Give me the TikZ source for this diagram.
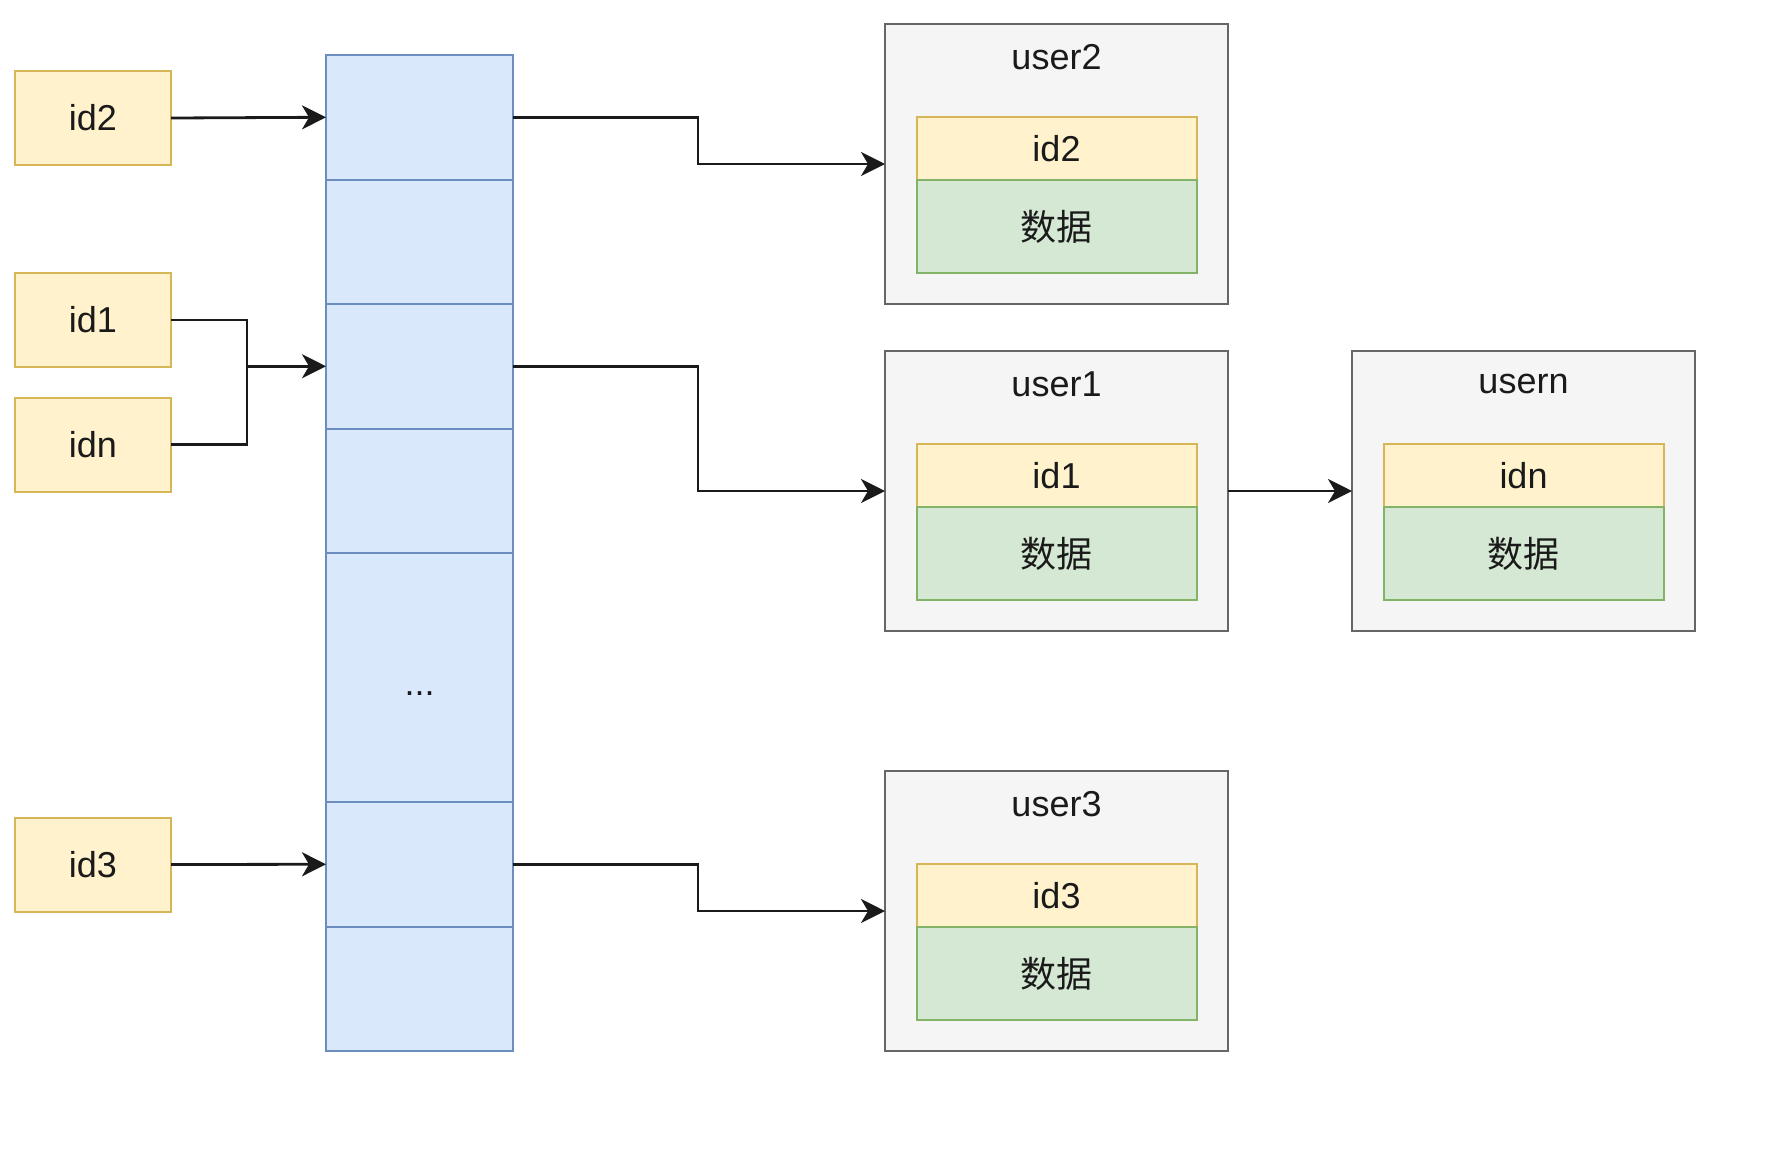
\documentclass[tikz,border=0pt]{standalone}
\usepackage{fontspec}
\setmainfont{Liberation Sans}
\newfontfamily\cjk{Noto Sans CJK SC}
\usetikzlibrary{arrows.meta, positioning}
\definecolor{cKey}{HTML}{FFF2CC}
\definecolor{cKeyL}{HTML}{D6B656}
\definecolor{cSlot}{HTML}{DAE8FC}
\definecolor{cSlotL}{HTML}{6C8EBF}
\definecolor{cData}{HTML}{D5E8D4}
\definecolor{cDataL}{HTML}{82B366}
\definecolor{cUser}{HTML}{F5F5F5}
\definecolor{cUserL}{HTML}{666666}
\definecolor{ink}{HTML}{1A1A1A}

\begin{document}
\begin{tikzpicture}[
  % pixel-like grid, y running downwards
  x=0.5pt, y=-0.5pt,
  >={Stealth[length=12pt, width=12pt, inset=3.5pt]},
  font=\fontsize{18}{22}\selectfont,
  text=ink,
  key/.style={draw=cKeyL, fill=cKey, line width=1pt, outer sep=0pt,
              minimum width=78pt, minimum height=47pt, inner sep=0pt},
  cell/.style={draw=cSlotL, fill=cSlot, line width=1pt, outer sep=0pt,
               minimum width=93.5pt, inner sep=0pt},
  user/.style={draw=cUserL, fill=cUser, line width=1pt, outer sep=0pt,
               minimum width=171.5pt, minimum height=140pt, inner sep=0pt},
  idrow/.style={draw=cKeyL, fill=cKey, line width=1pt, outer sep=0pt,
                minimum width=140pt, minimum height=31.5pt, inner sep=0pt},
  datarow/.style={draw=cDataL, fill=cData, line width=1pt, outer sep=0pt,
                  minimum width=140pt, minimum height=46.5pt, inner sep=0pt,
                  font={\cjk\fontsize{18}{22}\selectfont}},
  arr/.style={->, line width=1.4pt, color=ink},
  link/.style={line width=1.4pt, color=ink},
]
  \useasboundingbox (0,0) rectangle (1786,1164);

  % --- keys on the left ---
  \foreach \n/\y in {id2/118, id1/320, idn/444.5, id3/864.5}{
    \node[key] (\n) at (93,\y) {\n};
  }

  % --- slot column ---
  \foreach \i/\y/\h in {
      1/117.25/62.25pt, 2/241.75/62.25pt, 3/366.25/62.25pt,
      4/490.75/62.25pt, 5/677.5/124.5pt, 6/864.25/62.25pt,
      7/988.75/62.25pt%
  }{
    \node[cell, minimum height=\h] (c\i) at (419.5,\y) {};
  }
  \node (dots) at ([yshift=-8pt]c5.center) {...};

  % --- user records ---
  \foreach \n/\x/\y/\lab/\k in {
      u2/1056.5/164/user2/id2, u1/1056.5/491/user1/id1,
      un/1523.5/491/usern/idn, u3/1056.5/911/user3/id3%
  }{
    \node[user] (\n) at (\x,\y) {};
    \node (\n-lab) at ([yshift=-16.5pt]\n.north) {\lab};
    \node[idrow, anchor=north] (\n-id) at ([yshift=23.5pt]\n.center) {\k};
    \node[datarow, below=0pt of \n-id] (\n-data) {数据};
  }

  % --- keys into slots ---
  \draw[arr] (id2.east) -- (c1.west);
  \coordinate (jn) at (247,366.25);
  \draw[link] (id1.east) -| (jn) |- (idn.east);
  \draw[arr] (jn) -- (c3.west);
  \draw[arr] (id3.east) -- (c6.west);

  % --- slots into records ---
  \foreach \c/\u in {c1/u2, c3/u1, c6/u3}{
    \draw[arr] (\c.east) -- ++(185,0) |- (\u.west);
  }
  \draw[arr] (u1.east) -- (un.west);
\end{tikzpicture}
\end{document}
